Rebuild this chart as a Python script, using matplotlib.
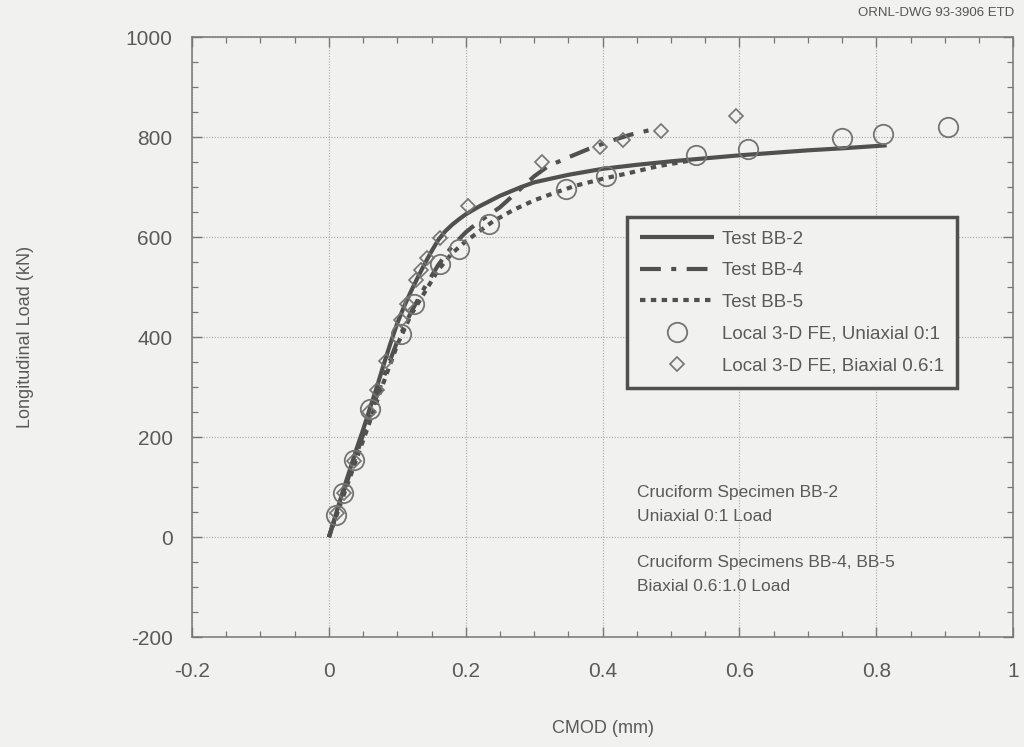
import matplotlib
matplotlib.use("Agg")
import matplotlib.pyplot as plt
from matplotlib.ticker import MultipleLocator

plt.rcParams['font.family'] = ['Liberation Sans', 'DejaVu Sans']
plt.rcParams['axes.unicode_minus'] = False

# Test records: CMOD (mm) vs longitudinal load (kN)
bb2_cmod = [0.0, 0.01, 0.02, 0.03, 0.04, 0.05, 0.06, 0.07, 0.08, 0.09, 0.10, 0.11, 0.12, 0.13,
            0.14, 0.15, 0.16, 0.17, 0.18, 0.19, 0.20, 0.22, 0.25, 0.28, 0.30, 0.35, 0.40, 0.45,
            0.50, 0.55, 0.60, 0.65, 0.70, 0.75, 0.815]
bb2_load = [0, 45, 90, 132, 175, 215, 258, 300, 345, 388, 428, 462, 492, 520,
            547, 572, 595, 612, 625, 636, 646, 662, 683, 700, 710, 725, 737, 745,
            752, 758, 764, 769, 774, 778, 784]

bb4_cmod = [0.0, 0.02, 0.04, 0.06, 0.08, 0.10, 0.12, 0.14, 0.16, 0.18, 0.20, 0.22, 0.25, 0.28,
            0.30, 0.32, 0.35, 0.38, 0.41, 0.44, 0.48]
bb4_load = [0, 85, 165, 245, 320, 392, 450, 500, 545, 582, 610, 632, 660, 697,
            722, 742, 760, 777, 792, 805, 818]

bb5_cmod = [0.0, 0.02, 0.04, 0.06, 0.08, 0.10, 0.12, 0.14, 0.16, 0.18, 0.20, 0.22, 0.24, 0.27,
            0.30, 0.33, 0.36, 0.40, 0.44, 0.48, 0.53]
bb5_load = [0, 78, 155, 232, 310, 385, 445, 490, 535, 568, 592, 612, 632, 655,
            674, 689, 703, 717, 729, 742, 754]

# Local 3-D finite element predictions
fe_uni_cmod = [0.010, 0.021, 0.036, 0.060, 0.105, 0.124, 0.162, 0.190, 0.234, 0.347, 0.405,
               0.536, 0.612, 0.750, 0.810, 0.905]
fe_uni_load = [44, 89, 155, 257, 407, 467, 547, 577, 627, 697, 722, 764, 777, 799, 807, 821]

fe_bi_cmod = [0.012, 0.022, 0.037, 0.058, 0.070, 0.083, 0.105, 0.114, 0.128, 0.135, 0.143,
              0.163, 0.203, 0.311, 0.396, 0.430, 0.486, 0.595]
fe_bi_load = [48, 88, 152, 250, 295, 353, 434, 466, 514, 534, 559, 599, 662, 751, 781, 795, 813, 843]

x_ticks = [-0.2, 0, 0.2, 0.4, 0.6, 0.8, 1]
x_tick_labels = ['-0.2', '0', '0.2', '0.4', '0.6', '0.8', '1']
y_ticks = [-200, 0, 200, 400, 600, 800, 1000]

ink = '#505050'
text_col = '#5a5a5a'
bg = '#f1f1ef'

fig = plt.figure(figsize=(10.24, 7.47), dpi=100, facecolor=bg)
ax = fig.add_axes([0.1875, 0.147, 0.802, 0.803], facecolor=bg)

ax.plot(bb2_cmod, bb2_load, color=ink, lw=3.0, solid_capstyle='butt', solid_joinstyle='round',
        label='Test BB-2', zorder=3)
ax.plot(bb4_cmod, bb4_load, color=ink, lw=3.0, linestyle=(0, (5, 2.5, 1.2, 2.5)),
        label='Test BB-4', zorder=3)
ax.plot(bb5_cmod, bb5_load, color=ink, lw=3.0, linestyle=(0, (1.3, 1.3)),
        label='Test BB-5', zorder=3)
ax.plot(fe_uni_cmod, fe_uni_load, linestyle='none', marker='o', ms=14, mfc='none', mec='#747474',
        mew=1.3, label='Local 3-D FE, Uniaxial 0:1', zorder=4)
ax.plot(fe_bi_cmod, fe_bi_load, linestyle='none', marker='D', ms=7.5, mfc='none', mec='#747474',
        mew=1.2, label='Local 3-D FE, Biaxial 0.6:1', zorder=4)

ax.set_xlim(-0.2, 1.0)
ax.set_ylim(-200, 1000)
ax.set_xticks(x_ticks)
ax.set_xticklabels(x_tick_labels)
ax.set_yticks(y_ticks)
ax.xaxis.set_minor_locator(MultipleLocator(0.05))
ax.yaxis.set_minor_locator(MultipleLocator(50))
ax.tick_params(which='both', direction='in', top=True, right=True, colors='#777777',
               labelcolor=text_col)
ax.tick_params(which='major', length=7, width=1, labelsize=15)
ax.tick_params(axis='x', which='major', pad=18)
ax.tick_params(axis='y', which='major', pad=14)
ax.tick_params(which='minor', length=4, width=0.9)
ax.grid(True, which='major', linestyle=(0, (1, 1.5)), color='#a8a8a8', lw=0.8)
for sp in ax.spines.values():
    sp.set_color('#777777')
    sp.set_linewidth(1.1)

ax.set_xlabel('CMOD (mm)', fontsize=13, color=text_col, labelpad=28)
ax.set_ylabel('Longitudinal Load (kN)', fontsize=13, color=text_col, labelpad=66)

leg = ax.legend(loc='upper left', bbox_to_anchor=(0.53, 0.70), fontsize=13.5, frameon=True,
                fancybox=False, edgecolor='#505050', facecolor=bg, framealpha=1,
                handlelength=3.9, handletextpad=0.45, labelspacing=0.78, borderpad=0.7,
                labelcolor=text_col, borderaxespad=0)
leg.get_frame().set_linewidth(2.5)

ax.text(0.45, 66, 'Cruciform Specimen BB-2\nUniaxial 0:1 Load', fontsize=12.5, color=text_col,
        va='center', ha='left', linespacing=1.75)
ax.text(0.45, -74, 'Cruciform Specimens BB-4, BB-5\nBiaxial 0.6:1.0 Load', fontsize=12.5,
        color=text_col, va='center', ha='left', linespacing=1.75)

fig.text(0.99, 0.99, 'ORNL-DWG 93-3906 ETD', fontsize=9.5, color='#555555', ha='right', va='top')

fig.savefig('out.png', dpi=100, facecolor=bg)
